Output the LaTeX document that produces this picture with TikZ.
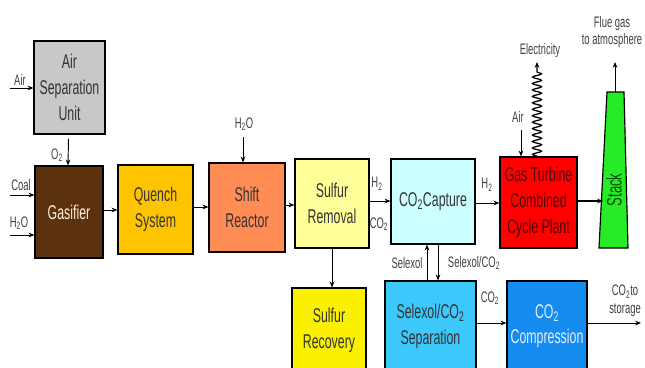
\documentclass[tikz,border=0pt]{standalone}
\usepackage{fontspec}
\setmainfont{Liberation Sans}[FakeStretch=0.62]
\usetikzlibrary{arrows.meta, decorations.pathmorphing}

\definecolor{asugray}{RGB}{200,200,200}
\definecolor{gasbrown}{RGB}{92,50,14}
\definecolor{quenchgold}{RGB}{255,196,0}
\definecolor{shiftorange}{RGB}{255,140,85}
\definecolor{srpale}{RGB}{255,255,153}
\definecolor{capcyan}{RGB}{204,255,255}
\definecolor{gtred}{RGB}{255,0,0}
\definecolor{stackgreen}{RGB}{40,235,40}
\definecolor{srecyellow}{RGB}{250,240,0}
\definecolor{sepblue}{RGB}{60,200,250}
\definecolor{compblue}{RGB}{20,140,240}

\begin{document}
\begin{tikzpicture}[
        x=0.03cm, y=-0.03cm,
        blk/.style={draw, line width=1pt, align=center, inner sep=1pt, text=black!80,
            font=\fontsize{17}{22}\selectfont},
        boxsize/.style 2 args={minimum width=#1, minimum height=#2},
        lbl/.style={inner sep=0.5pt, text=black!75, font=\fontsize{13}{15}\selectfont},
        >={Stealth[length=5pt, width=4pt]}, line width=0.8pt
    ]
        \useasboundingbox (0,0) rectangle (645,368);
        \clip (0,0) rectangle (645,368);

        % process blocks
        \node[blk, fill=asugray, boxsize={2.13cm}{2.79cm}] (asu) at (69.5,87.5) {Air\\Separation\\Unit};
        \node[blk, fill=gasbrown, text=orange!15, boxsize={2.04cm}{2.76cm}] (gas) at (69,212) {Gasifier};
        \node[blk, fill=quenchgold, boxsize={2.25cm}{2.67cm}] (quench) at (155.5,209.5) {Quench\\System};
        \node[blk, fill=shiftorange, boxsize={2.28cm}{2.67cm}] (shift) at (247,207.5) {Shift\\Reactor};
        \node[blk, fill=srpale, boxsize={2.22cm}{2.67cm}] (srem) at (332,203.5) {Sulfur\\Removal};
        \node[blk, fill=capcyan, boxsize={2.52cm}{2.55cm}] (cap) at (433,201.5) {CO\textsubscript{2}Capture};
        \node[blk, fill=gtred, text=black!70!red, boxsize={2.31cm}{2.73cm}] (gt) at (538.5,202.5) {Gas Turbine\\Combined\\Cycle Plant};
        \node[blk, fill=srecyellow, boxsize={2.22cm}{2.52cm}] (srec) at (329,330) {Sulfur\\Recovery};
        \node[blk, fill=sepblue, boxsize={2.73cm}{2.7cm}] (sep) at (430.5,326) {Selexol/CO\textsubscript{2}\\Separation};
        \node[blk, fill=compblue, text=blue!8, boxsize={2.4cm}{2.7cm}] (comp) at (547,326) {CO\textsubscript{2}\\Compression};

        % stack
        \draw[line width=1pt, fill=stackgreen] (599,248) -- (607,92) -- (624,92) -- (628,248) -- cycle;
        \node[rotate=90, text=black!70!green, font=\fontsize{18}{20}\selectfont] (stack) at (614,190) {Stack};
        \coordinate (stkin) at (603,201);
        \coordinate (stktop) at (615,92);

        % free ends
        \coordinate (airin) at (10,88);
        \coordinate (coalin) at (10,195);
        \coordinate (h2oin) at (10,235);
        \coordinate (steam) at (243,137);
        \coordinate (gtair) at (521,130);
        \coordinate (elec) at (537,62);
        \coordinate (flue) at (615,62);
        \coordinate (store) at (641,323);

        % feeds
        \draw[->] (airin) -- (airin -| asu.west);
        \draw[->] (asu.south) ++(-1,4) -- (gas.north -| 68,0);
        \draw[->] (coalin) -- (coalin -| gas.west);
        \draw[->] (h2oin) -- (h2oin -| gas.west);
        \draw[->] (steam) -- (steam |- shift.north);
        \draw[->] (gtair) -- (gtair |- gt.north);

        % main line
        \draw[->] (gas.east |- 0,210) -- (quench.west |- 0,210);
        \draw[->] (quench.east |- 0,207) -- (shift.west |- 0,207);
        \draw[->] (shift.east |- 0,205) -- (srem.west |- 0,205);
        \draw[->] (srem.east |- 0,201) -- (cap.west |- 0,201);
        \draw[->] (cap.east |- 0,203) -- (gt.west |- 0,203);
        \draw[->, line width=2pt] (gt.east |- stkin) -- (stkin);
        \draw[->] (srem.south -| 332,0) -- (srec.north -| 332,0);
        \draw[->] (sep.north -| 427,0) -- (cap.south -| 427,0);
        \draw[->] (cap.south -| 438,0) -- (sep.north -| 438,0);
        \draw[->] (sep.east |- 0,323) -- (comp.west |- 0,323);
        \draw[->] (comp.east |- store) -- (store);
        \draw[->] (stktop) -- (flue);
        \draw[->, line width=1.1pt, decorate, decoration={snake, amplitude=3.8pt, segment length=5.5pt, post length=6pt}]
            (gt.north -| elec) -- (elec);

        % labels
        \node[lbl] (lair) at (20,80) {Air};
        \node[lbl] (lo2) at (57,155) {O\textsubscript{2}};
        \node[lbl] (lcoal) at (21,185) {Coal};
        \node[lbl] (lh2o) at (19,223) {H\textsubscript{2}O};
        \node[lbl] (lsteam) at (244,124) {H\textsubscript{2}O};
        \node[lbl] (lh2a) at (377,184) {H\textsubscript{2}};
        \node[lbl] (lco2a) at (379,224) {CO\textsubscript{2}};
        \node[lbl] (lh2b) at (487,185) {H\textsubscript{2}};
        \node[lbl] (lgtair) at (518,117) {Air};
        \node[lbl] (lelec) at (540,51) {Electricity};
        \node[lbl, align=center] (lflue) at (612,32) {Flue gas\\to atmosphere};
        \node[lbl] (lsel) at (407,263) {Selexol};
        \node[lbl] (lselco2) at (474,263) {Selexol/CO\textsubscript{2}};
        \node[lbl] (lco2b) at (490,298) {CO\textsubscript{2}};
        \node[lbl, align=center] (lstore) at (625,301) {CO\textsubscript{2}to\\storage};
    \end{tikzpicture}
\end{document}
